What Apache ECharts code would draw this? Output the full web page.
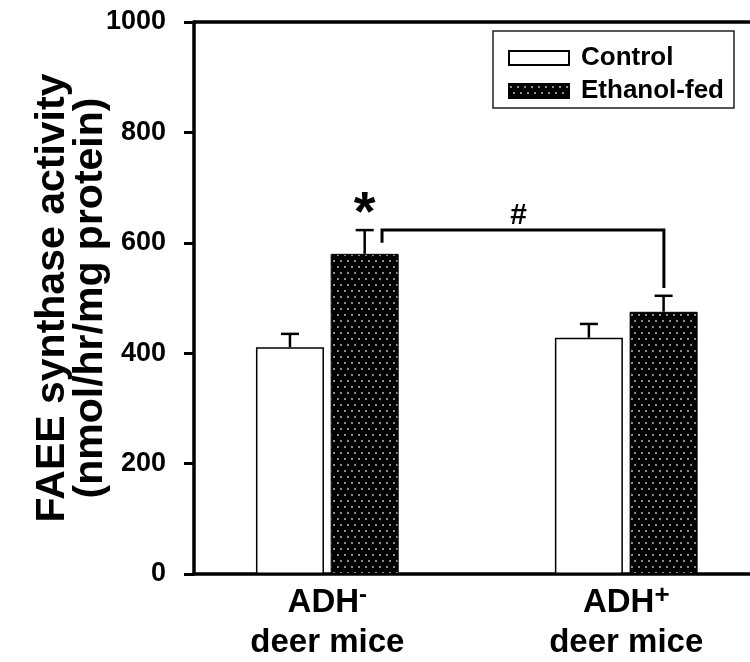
<!DOCTYPE html>
<html>
<head>
<meta charset="utf-8">
<script src="https://cdn.jsdelivr.net/npm/echarts@6/dist/echarts.min.js"></script>
<style>
  html, body { margin: 0; padding: 0; background: #fff; }
  #chart { width: 750px; height: 662px; }
</style>
</head>
<body>
<div id="chart"></div>
<script>
// group positions on the x axis (0 = ADH-, 1 = ADH+)
var groups = [0, 1];
var groupLabels = ['{m|ADH}{s|-}\n{m|deer mice}', '{m|ADH}{p|+}\n{m|deer mice}'];
var barShift = 0.125;

var controlVals = [411, 428];
var controlErr = [24, 25];
var ethanolVals = [580, 475];
var ethanolErr = [43, 29];

var yTicks = [0, 200, 400, 600, 800, 1000];

// significance bracket: [xLeft, yLeftBottom, yTop, xRight, yRightBottom]
var bracket = [0.183, 600, 623, 1.126, 518];
// annotation marks: [x, y, text]
var marks = [[0.125, 652, '*'], [0.64, 649, '#']];

var FONT = '"Liberation Sans", Arial, sans-serif';

// dotted fill for ethanol-fed bars
var tile = document.createElement('canvas');
tile.width = 7; tile.height = 12;
var tctx = tile.getContext('2d');
tctx.fillStyle = '#000';
tctx.fillRect(0, 0, 7, 12);
tctx.fillStyle = '#8c8c8c';
tctx.fillRect(1, 2, 2, 2);
tctx.fillRect(4, 8, 2, 2);
var dotted = { image: tile, repeat: 'repeat' };

var chart = echarts.init(document.getElementById('chart'));

function barData(vals, shift) {
	return groups.map(function (g, i) { return [g + shift, vals[i]]; });
}
function errData(vals, errs, shift) {
	return groups.map(function (g, i) { return [g + shift, vals[i], errs[i]]; });
}

function renderErr(params, api) {
	var x = api.value(0), v = api.value(1), e = api.value(2);
	var p0 = api.coord([x, v]);
	var p1 = api.coord([x, v + e]);
	var st = { stroke: '#000', lineWidth: 2.5 };
	return {
		type: 'group',
		children: [
			{ type: 'line', shape: { x1: p0[0], y1: p0[1], x2: p1[0], y2: p1[1] }, style: st },
			{ type: 'line', shape: { x1: p1[0] - 9, y1: p1[1], x2: p1[0] + 9, y2: p1[1] }, style: st }
		]
	};
}

var option = {
	animation: false,
	backgroundColor: '#fff',
	grid: { left: 194, right: 0, top: 22, bottom: 88, containLabel: false, outerBoundsMode: 'none' },
	legend: {
		data: ['Control', 'Ethanol-fed'],
		orient: 'vertical',
		left: 493,
		top: 31,
		padding: [14, 10, 4, 15],
		itemGap: 7,
		itemWidth: 60,
		itemHeight: 14,
		icon: 'rect',
		borderColor: '#222',
		borderWidth: 1.5,
		selectedMode: false,
		textStyle: { fontSize: 26, fontWeight: 'bold', fontFamily: FONT, color: '#000', padding: [0, 0, 0, 7] }
	},
	xAxis: [{
		type: 'value',
		min: -0.446,
		max: 1.414,
		position: 'bottom',
		splitLine: { show: false },
		axisTick: { show: false },
		axisLine: { onZero: false, lineStyle: { color: '#000', width: 3.5 } },
		axisLabel: {
			customValues: groups,
			margin: 9,
			formatter: function (v) { return groupLabels[groups.indexOf(v)] || ''; },
			rich: {
				m: { fontSize: 33, fontWeight: 'bold', fontFamily: FONT, color: '#000', lineHeight: 40 },
				s: { fontSize: 24, fontWeight: 'bold', fontFamily: FONT, color: '#000', verticalAlign: 'top', lineHeight: 40 },
				p: { fontSize: 26, fontWeight: 'bold', fontFamily: FONT, color: '#000', verticalAlign: 'top', lineHeight: 30 }
			}
		}
	}, {
		type: 'value',
		min: -0.446,
		max: 1.414,
		position: 'top',
		splitLine: { show: false },
		axisTick: { show: false },
		axisLabel: { show: false },
		axisLine: { onZero: false, lineStyle: { color: '#000', width: 3.5 } }
	}],
	yAxis: {
		type: 'value',
		min: yTicks[0],
		max: yTicks[yTicks.length - 1],
		interval: 200,
		name: 'FAEE synthase activity\n(nmol/hr/mg protein)',
		nameLocation: 'middle',
		nameRotate: 90,
		nameGap: 84,
		nameMoveOverlap: false,
		nameTextStyle: { fontSize: 41, fontWeight: 'bold', fontFamily: FONT, color: '#000', lineHeight: 38 },
		splitLine: { show: false },
		axisLine: { show: true, onZero: false, lineStyle: { color: '#000', width: 3.5 } },
		axisTick: { show: true, inside: false, length: 10, lineStyle: { color: '#000', width: 3 } },
		axisLabel: {
			margin: 28, fontSize: 27, fontWeight: 'bold', fontFamily: FONT, color: '#000',
			formatter: function (v) { return String(v); }
		}
	},
	series: [{
		name: 'Control',
		type: 'bar',
		barWidth: 68,
		barGap: '-100%',
		data: barData(controlVals, -barShift),
		itemStyle: { color: '#fff', borderColor: '#000', borderWidth: 1.5 }
	}, {
		name: 'Ethanol-fed',
		type: 'bar',
		barWidth: 68,
		barGap: '-100%',
		data: barData(ethanolVals, barShift),
		itemStyle: { color: dotted, borderColor: '#000', borderWidth: 1 }
	}, {
		type: 'custom',
		renderItem: renderErr,
		data: errData(controlVals, controlErr, -barShift),
		z: 5
	}, {
		type: 'custom',
		renderItem: renderErr,
		data: errData(ethanolVals, ethanolErr, barShift),
		z: 5
	}, {
		type: 'custom',
		data: [bracket],
		z: 5,
		renderItem: function (params, api) {
			var a = api.coord([api.value(0), api.value(1)]);
			var b = api.coord([api.value(0), api.value(2)]);
			var c = api.coord([api.value(3), api.value(2)]);
			var d = api.coord([api.value(3), api.value(4)]);
			return {
				type: 'polyline',
				shape: { points: [a, b, c, d] },
				style: { stroke: '#000', lineWidth: 3, fill: null }
			};
		}
	}, {
		type: 'custom',
		data: marks,
		z: 6,
		renderItem: function (params, api) {
			var p = api.coord([api.value(0), api.value(1)]);
			var t = marks[params.dataIndex][2];
			return {
				type: 'text',
				style: {
					text: t,
					x: p[0],
					y: p[1],
					textAlign: 'center',
					textVerticalAlign: 'middle',
					fontSize: t === '*' ? 56 : 30,
					fontWeight: 'bold',
					fontFamily: FONT,
					fill: '#000'
				}
			};
		}
	}]
};

chart.setOption(option);
</script>
</body>
</html>
